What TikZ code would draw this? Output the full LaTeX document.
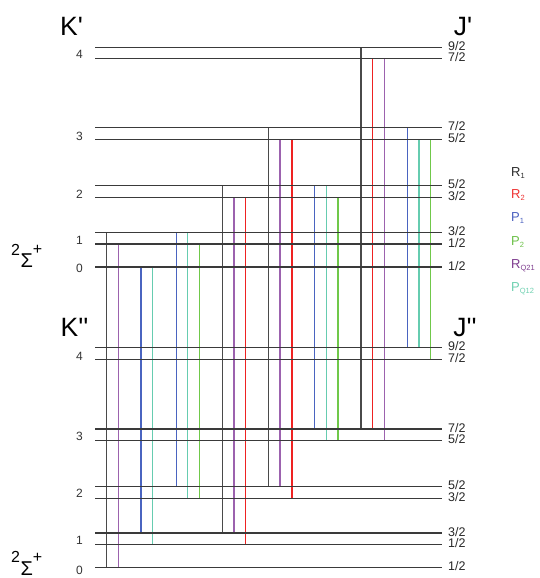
\documentclass[tikz,border=0pt]{standalone}
\usepackage{fontspec}
\setmainfont{Liberation Sans}
\definecolor{lvlc}{HTML}{3A3A3A}
\definecolor{cRa}{HTML}{4A4A4A}
\definecolor{cRb}{HTML}{EE2222}
\definecolor{cPa}{HTML}{4A64C0}
\definecolor{cPb}{HTML}{70C84A}
\definecolor{cRQ}{HTML}{9C62AE}
\definecolor{cPQ}{HTML}{66CCB0}
\definecolor{lRa}{HTML}{2A2A2A}
\definecolor{lRb}{HTML}{EE3333}
\definecolor{lPa}{HTML}{4A60BE}
\definecolor{lPb}{HTML}{6CC048}
\definecolor{lRQ}{HTML}{7E3C8E}
\definecolor{lPQ}{HTML}{6ED0B0}
\newcommand\lsub[1]{\raisebox{-2.2pt}{\fontsize{7.5}{7.5}\selectfont #1}}
\begin{document}
\begin{tikzpicture}[x=1pt,y=-1pt,
  lvl/.style={draw=lvlc,line width=1.1pt},
  tRa/.style={draw=cRa,line width=1.25pt},
  tRb/.style={draw=cRb,line width=1.25pt},
  tPa/.style={draw=cPa,line width=1.25pt},
  tPb/.style={draw=cPb,line width=1.25pt},
  tRQ/.style={draw=cRQ,line width=1.25pt},
  tPQ/.style={draw=cPQ,line width=1.25pt},
  frac/.style={anchor=base west,inner sep=0pt,text=black!85,font=\fontsize{12.5}{12.5}\selectfont},
  knum/.style={anchor=center,inner sep=0pt,text=black!80,font=\fontsize{12}{12}\selectfont},
  big/.style={anchor=base,inner sep=0pt,font=\fontsize{26.5}{26.5}\selectfont},
  leg/.style={anchor=base west,inner sep=0pt,font=\fontsize{13}{13}\selectfont}]
\useasboundingbox (0,0) rectangle (540,578);

% level anchors and labels
\foreach \y/\a [count=\i] in {47.3/9,58.7/7,127.7/7,139.7/5,185.7/5,197.3/3,232.3/3,244/1,267/1,347.7/9,359.7/7,429/7,440.7/5,486.7/5,498.3/3,533/3,544.3/1,567.7/1}{
  \coordinate (lvA\i) at (95,\y);
  \coordinate (lvB\i) at (442,\y);
  \node[frac] (fr\i) at (448,\y+3.2) {\a/2};
}

% transitions
\foreach \x/\t/\b/\s in {106.6/7/18/tRa,118.3/8/18/tRQ,141/9/16/tPa,152.8/9/17/tPQ,
  176.2/7/14/tPa,187.6/7/15/tPQ,199.3/8/15/tPb,
  222.4/5/16/tRa,234.1/6/16/tRQ,245.2/6/17/tRb,
  268.6/3/14/tRa,280/4/14/tRQ,292/4/15/tRb,
  314.8/5/12/tPa,326.6/5/13/tPQ,338/6/13/tPb,
  361/1/12/tRa,372.8/2/12/tRb,384.5/2/13/tRQ,
  407.6/3/10/tPa,419/4/10/tPQ,430.7/4/11/tPb}{
  \draw[\s] (\x,0 |- lvA\t) -- (\x,0 |- lvA\b);
}

% levels
\foreach \i in {1,...,18}{\draw[lvl] (lvA\i) -- (lvB\i);}

% K numbers
\foreach \y/\k [count=\i] in {54.5/4,136/3,194/2,240/1,268.5/0,356/4,436.7/3,493/2,540/1,570/0}{
  \node[knum] (k\i) at (79.5,\y) {\k};
}

% big labels
\node[big] (Kup) at (71.5,36) {K\textquotesingle};
\node[big] (Jup) at (463,36) {J\textquotesingle};
\node[big] (Klo) at (74.6,336.5) {K\textquotesingle\textquotesingle};
\node[big] (Jlo) at (465,336.5) {J\textquotesingle\textquotesingle};

\node[anchor=base west,inner sep=0pt] (sigup) at (11,267.3)
  {\fontsize{16}{16}\selectfont\raisebox{12.3pt}{2}\fontsize{20}{20}\selectfont\kern0.5pt Σ\fontsize{16}{16}\selectfont\raisebox{12.5pt}{+}};
\node[anchor=base west,inner sep=0pt] (siglo) at (11,575.2)
  {\fontsize{16}{16}\selectfont\raisebox{12.3pt}{2}\fontsize{20}{20}\selectfont\kern0.5pt Σ\fontsize{16}{16}\selectfont\raisebox{12.5pt}{+}};

% legend
\node[leg,text=lRa] (lg1) at (511,176) {R\lsub{1}};
\node[leg,text=lRb] (lg2) at (511,198.3) {R\lsub{2}};
\node[leg,text=lPa] (lg3) at (511,221.7) {P\lsub{1}};
\node[leg,text=lPb] (lg4) at (511,245) {P\lsub{2}};
\node[leg,text=lRQ] (lg5) at (511,268.3) {R\lsub{Q21}};
\node[leg,text=lPQ] (lg6) at (511,291.7) {P\lsub{Q12}};
\end{tikzpicture}
\end{document}
